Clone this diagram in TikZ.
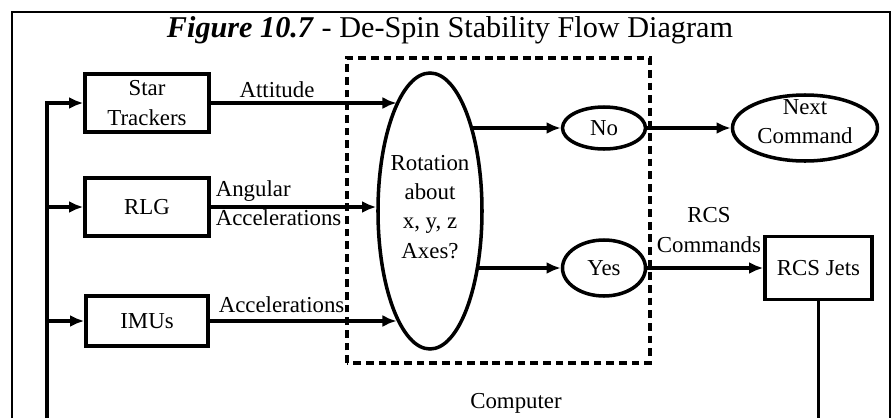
\documentclass[tikz,border=0pt]{standalone}
\usepackage{fontspec}
\setmainfont{Liberation Serif}
\usetikzlibrary{arrows.meta,shapes.geometric}
\newcommand{\flowfont}{\fontsize{6.5}{8.3}\selectfont}
\newcommand{\headfont}{\fontsize{8.6}{10}\selectfont}

\begin{document}
\begin{tikzpicture}[line width=1pt,
  sensor/.style={draw,rectangle,minimum width=1.24cm,minimum height=0.58cm,inner sep=0pt,align=center,font=\flowfont},
  bubble/.style={draw,ellipse,inner sep=0pt},
  flowlbl/.style={inner sep=0pt,align=center,font=\flowfont},
  flow/.style={-{Latex[length=4pt,width=3.4pt]}},
  frame/.style={line width=0.7pt},
  compbox/.style={dash pattern=on 2.2pt off 1.4pt}]
\useasboundingbox (0,0) rectangle (8.94,4.18);
\draw[frame] (0.12,0)--(0.12,4.06)--(8.90,4.06)--(8.90,0);
\node[anchor=base,inner sep=0pt,font=\headfont] (title) at (4.50,3.81) {\textbf{\textit{Figure 10.7}} - De-Spin Stability Flow Diagram};
% computer
\draw[compbox] (3.47,0.55) rectangle (6.50,3.60);
\node[flowlbl,anchor=base] (comp) at (5.16,0.10) {Computer};
% sensors
\node[sensor] (st) at (1.47,3.15) {Star\\Trackers};
\node[sensor] (rlg) at (1.47,2.11) {RLG};
\node[sensor,minimum width=1.22cm,minimum height=0.50cm] (imu) at (1.47,0.97) {IMUs};
% decision
\node[bubble,minimum width=1.04cm,minimum height=2.76cm,
  label={[flowlbl,yshift=0.04cm]center:{Rotation\\about\\x, y, z\\Axes?}}] (decide) at (4.30,2.07) {};
\node[bubble,minimum width=0.83cm,minimum height=0.42cm,label={[flowlbl]center:No}] (no) at (6.04,2.90) {};
\node[bubble,minimum width=0.83cm,minimum height=0.56cm,label={[flowlbl]center:Yes}] (yes) at (6.04,1.50) {};
\node[bubble,minimum width=1.45cm,minimum height=0.66cm,label={[flowlbl,yshift=0.06cm]center:{Next\\Command}}] (next) at (8.05,2.90) {};
\node[sensor,minimum width=1.07cm,minimum height=0.63cm] (jets) at (8.185,1.50) {RCS Jets};
% feedback loop
\coordinate (fbl) at (0.47,0);
\coordinate (fbr) at (8.185,0);
\draw (jets) -- (fbr);
\draw[flow] (fbl) |- (st);
\draw[flow] (fbl |- rlg) -- (rlg);
\draw[flow] (fbl |- imu) -- (imu);
% into the decision
\draw[flow] (st) -- (st -| decide.107);
\draw[flow] (rlg) -- (rlg -| decide.west);
\draw[flow] (imu) -- (imu -| decide.253);
\node[flowlbl,anchor=base] (lbatt) at (2.77,3.21) {Attitude};
\node[flowlbl,anchor=west,align=left] (lbang) at (2.14,2.145) {Angular\\Accelerations};
\node[flowlbl,anchor=base west] (lbacc) at (2.17,1.06) {Accelerations};
% out of the decision
\draw[flow] (no -| decide.63) -- (no);
\draw[flow] (yes -| decide.-50) -- (yes);
\draw[flow] (no) -- (next);
\draw[flow] (yes) -- (jets);
\node[flowlbl] (lbrcs) at (7.09,1.88) {RCS\\Commands};
\end{tikzpicture}
\end{document}
